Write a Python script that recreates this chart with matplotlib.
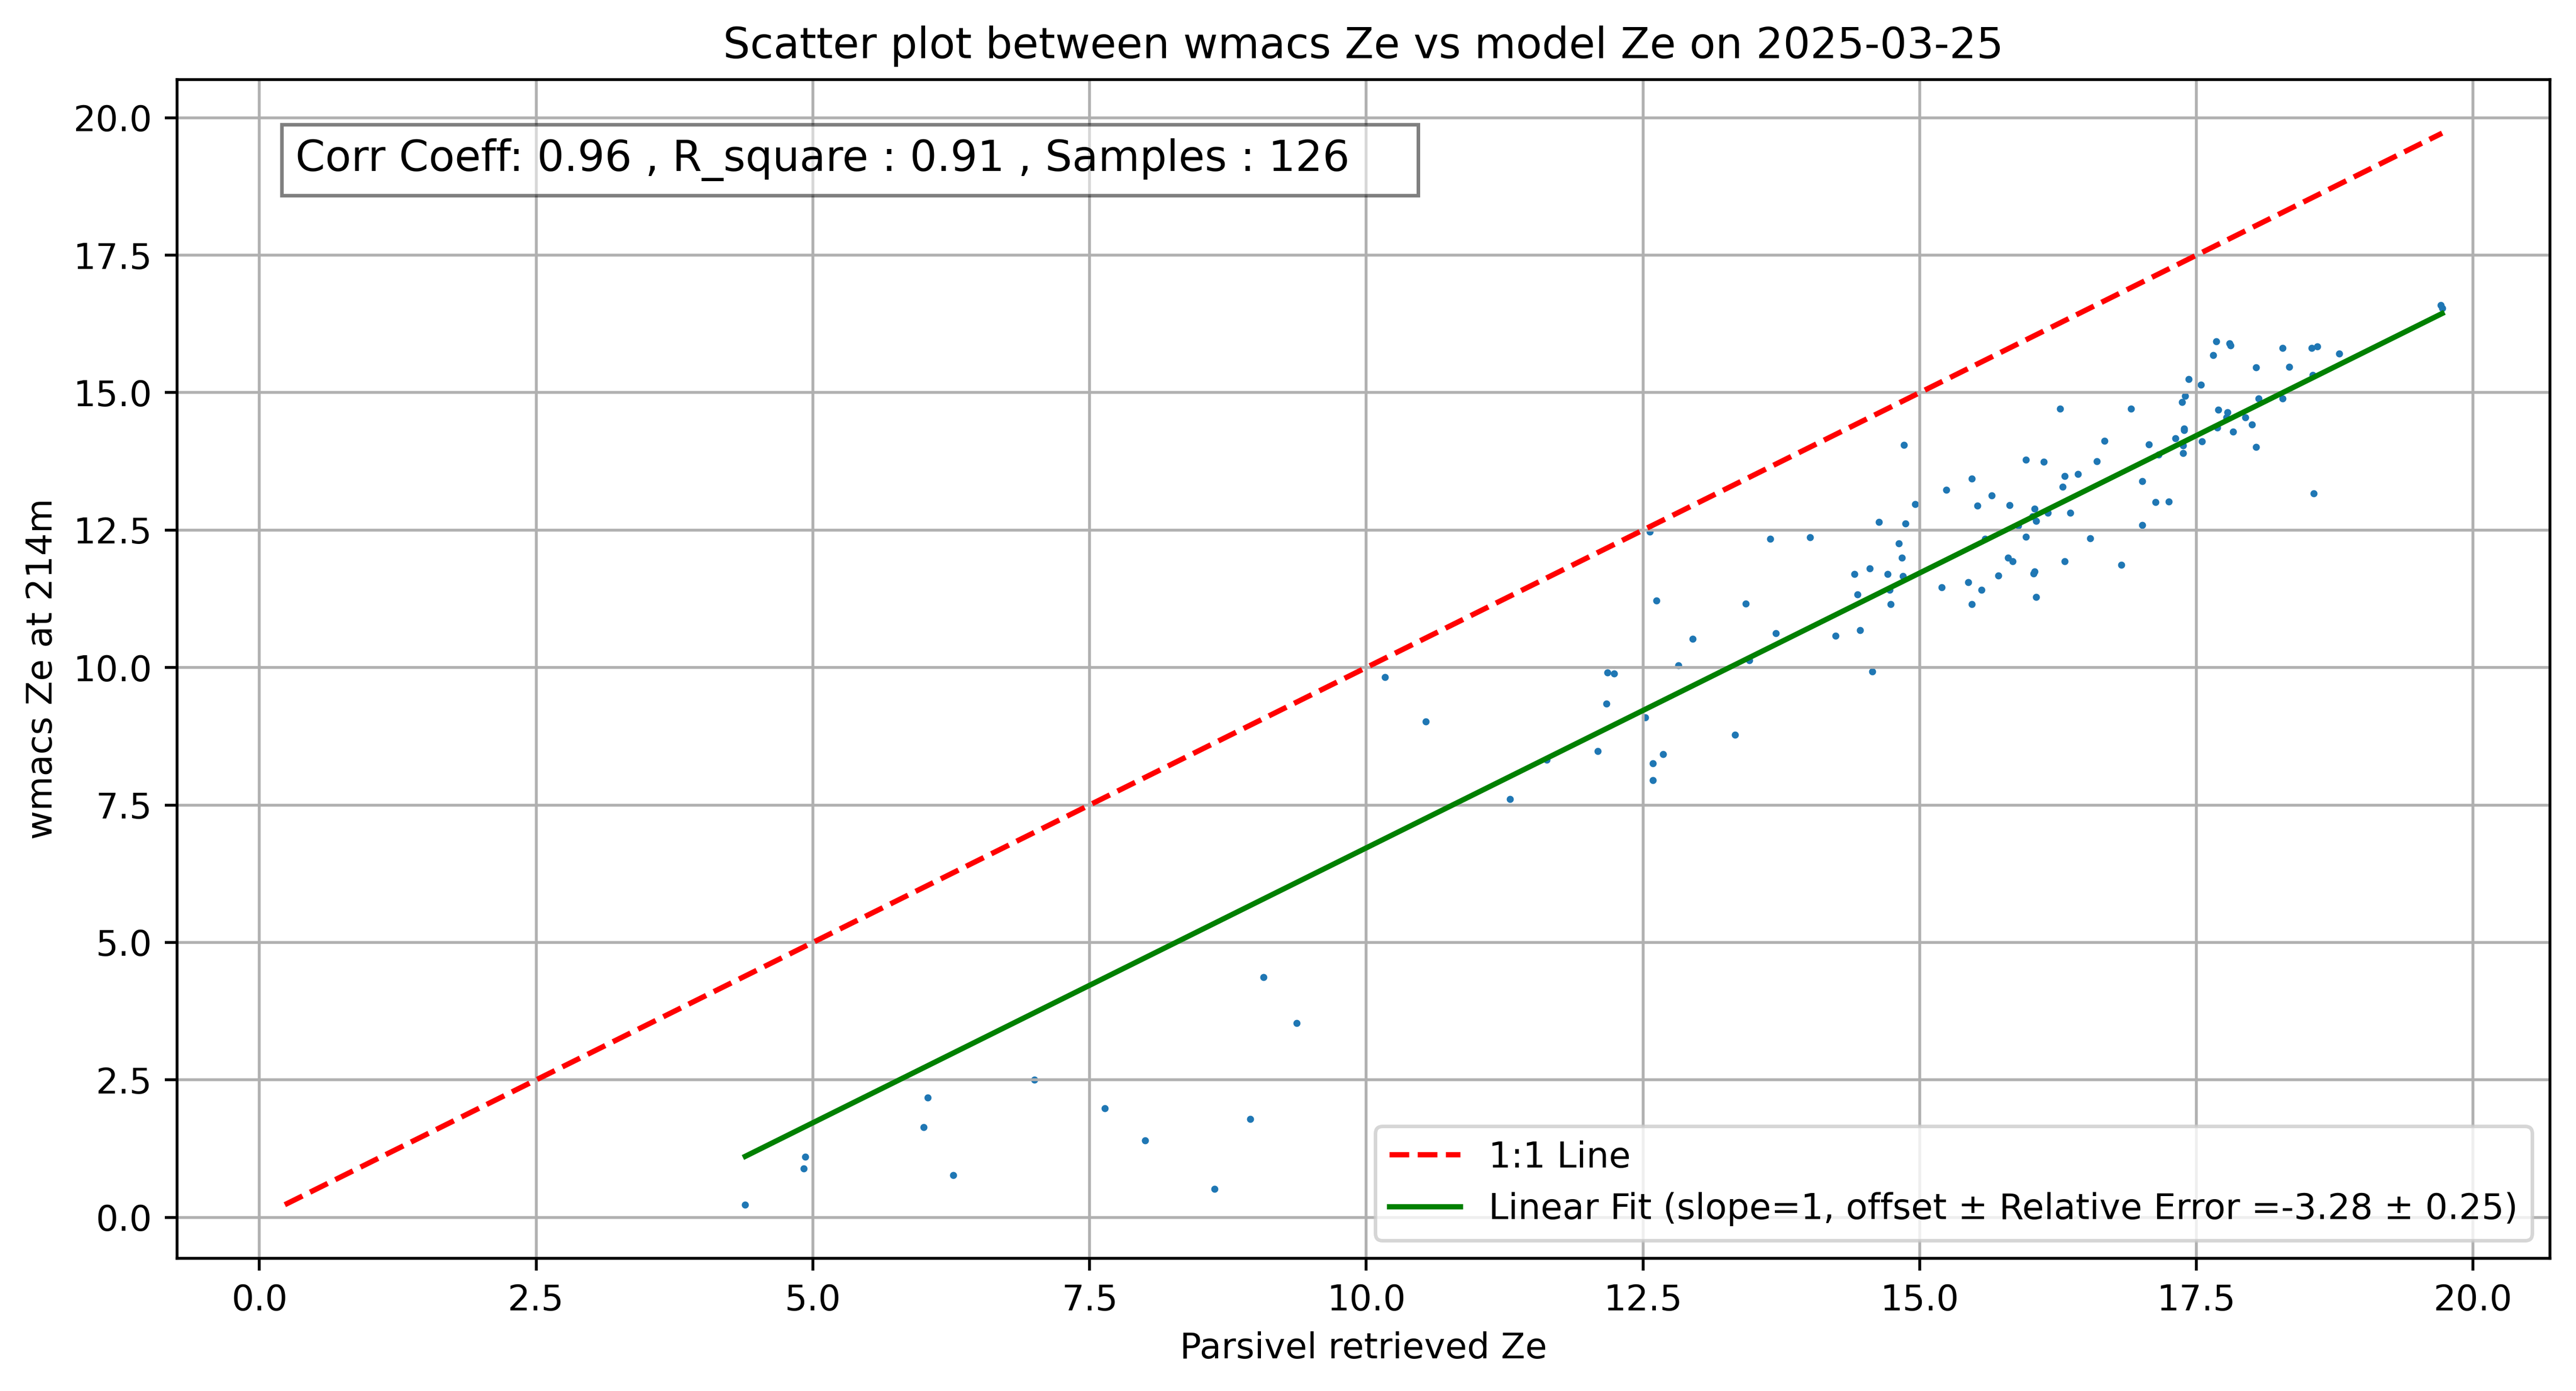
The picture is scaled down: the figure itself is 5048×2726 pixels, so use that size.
import matplotlib
matplotlib.use("Agg")
import matplotlib.pyplot as plt

# values (126 samples)
parsivel_ze = [
    4.39, 4.92, 4.93, 6.00, 6.04, 6.27, 7.00, 7.64, 8.00, 8.63, 8.95, 9.07, 9.37,
    10.17, 10.54, 11.30, 11.63, 12.09, 12.17, 12.18, 12.24,
    12.52, 12.59, 12.59, 12.68, 12.82, 12.56, 12.62, 12.95, 13.33, 13.43,
    13.46, 13.65, 13.70, 14.01, 14.24, 14.41, 14.44, 14.46, 14.55, 14.57,
    14.63, 14.71, 14.73, 14.74, 14.81, 14.84, 14.86, 14.85, 14.87, 14.96,
    15.20, 15.44, 15.47, 15.56, 15.71, 15.80, 15.84, 16.03, 16.04, 16.05,
    16.31, 16.82, 15.59, 15.96, 16.54,
    17.43, 17.40, 17.37, 16.27, 16.91, 17.39, 17.39, 17.31, 16.67, 17.07,
    17.38, 17.38, 17.16, 15.96, 16.12, 16.60, 15.47, 16.31, 16.43, 16.29,
    17.01, 15.24, 15.65, 15.52, 15.81, 16.04, 17.13, 17.25, 16.02, 16.16,
    16.36, 16.05, 15.89, 17.01,
    19.71, 19.72, 17.68, 17.80, 17.81, 17.65, 18.28, 18.54, 18.59, 18.79,
    18.04, 18.34, 18.55, 17.54, 18.06, 18.28, 17.70, 17.78, 17.77, 17.94,
    18.00, 17.69, 17.83, 17.55, 18.04, 18.56,
]
wmacs_ze = [
    0.23, 0.89, 1.10, 1.64, 2.18, 0.77, 2.50, 1.98, 1.40, 0.52, 1.79, 4.37, 3.53,
    9.83, 9.02, 7.61, 8.32, 8.48, 9.34, 9.91, 9.89,
    9.09, 8.26, 7.95, 8.42, 10.04, 12.47, 11.22, 10.52, 8.78, 11.16,
    10.13, 12.34, 10.62, 12.37, 10.58, 11.70, 11.33, 10.68, 11.80, 9.93,
    12.65, 11.70, 11.41, 11.15, 12.26, 12.00, 14.05, 11.66, 12.62, 12.97,
    11.46, 11.55, 11.15, 11.41, 11.67, 12.00, 11.93, 11.71, 11.75, 11.28,
    11.93, 11.87, 12.34, 12.38, 12.35,
    15.25, 14.94, 14.83, 14.71, 14.71, 14.35, 14.32, 14.17, 14.12, 14.06,
    14.04, 13.90, 13.87, 13.78, 13.74, 13.75, 13.44, 13.48, 13.52, 13.29,
    13.39, 13.23, 13.13, 12.94, 12.95, 12.89, 13.01, 13.02, 12.75, 12.81,
    12.81, 12.67, 12.58, 12.59,
    16.59, 16.54, 15.93, 15.90, 15.86, 15.68, 15.81, 15.81, 15.84, 15.71,
    15.46, 15.47, 15.32, 15.14, 14.89, 14.89, 14.69, 14.64, 14.55, 14.55,
    14.42, 14.36, 14.29, 14.11, 14.01, 13.17,
]

date_str = "2025-03-25"
height_str = "214m"
corr_coeff = 0.96
r_square = 0.91
offset = -3.28
rel_error = 0.25

fig, ax = plt.subplots(figsize=(10.096, 5.452), dpi=500)
fig.subplots_adjust(left=0.0687, right=0.9899, bottom=0.0954, top=0.9428)

ax.scatter(parsivel_ze, wmacs_ze, s=1)

min_val = min(min(parsivel_ze), min(wmacs_ze))
max_val = max(max(parsivel_ze), max(wmacs_ze))
ax.plot([min_val, max_val], [min_val, max_val], "r--", label="1:1 Line")

x_sorted = sorted(parsivel_ze)
fit_y = [x + offset for x in x_sorted]
ax.plot(x_sorted, fit_y, "g-",
        label=f"Linear Fit (slope=1, offset \u00b1 Relative Error ={offset:.2f} \u00b1 {rel_error:.2f})")

# the box in the reference has some blank room after the text
ax.text(0.05, 0.95,
        f"Corr Coeff: {corr_coeff:.2f} , R_square : {r_square:.2f} , Samples : {len(parsivel_ze)}    ",
        transform=ax.transAxes, fontsize=12, va="top",
        bbox=dict(facecolor="white", alpha=0.5))

ax.set_xlabel("Parsivel retrieved Ze")
ax.set_ylabel(f"wmacs Ze at {height_str}")
ax.set_title(f"Scatter plot between wmacs Ze vs model Ze on {date_str}")
ax.legend(loc="lower right")
ax.grid(True)

fig.savefig("out.png", dpi=500)
